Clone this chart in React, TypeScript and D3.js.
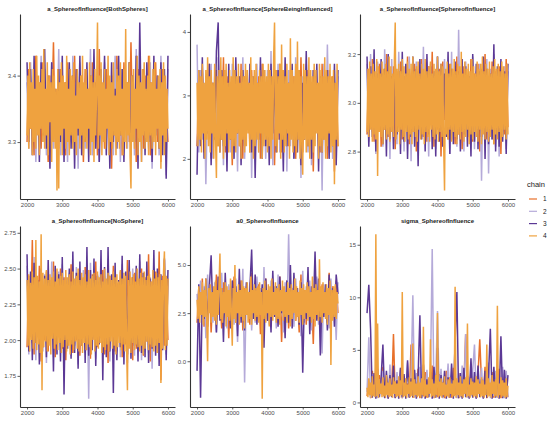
import { useEffect, useRef } from "react";
import { select, scaleLinear, line, axisBottom, axisLeft, format, extent } from "d3";

// chain legend
const chainNames = ["1", "2", "3", "4"];
const chainColors = ["#E8702A", "#B5AAD9", "#5B3895", "#EFA23F"];

const iterStart = 2000;
const iterEnd = 6000;
const iterTicks = [2000, 3000, 4000, 5000, 6000];

// ---- a_SphereofInfluence[BothSpheres]
const both1 = [3.30,3.41,3.32,3.38,3.28,3.43,3.34,3.39,3.29,3.42,3.31,3.37,3.27,3.40,3.33,3.45,3.30,3.38,3.29,3.41,3.35,3.39,3.28,3.42,3.31,3.37,3.30,3.43,3.29,3.36,3.32,3.40,3.27,3.41,3.34,3.38,3.30,3.42,3.31,3.39,3.28,3.44,3.32,3.37,3.29,3.41,3.33,3.38,3.26,3.40,3.31,3.43,3.30,3.36,3.28,3.42,3.32,3.39,3.30,3.45,3.31,3.37,3.27,3.41,3.33,3.38,3.29,3.40,3.32,3.43,3.28,3.39,3.31,3.42,3.30,3.38,3.27,3.41,3.33,3.36,3.30];
const both2 = [3.39,3.29,3.42,3.31,3.40,3.27,3.38,3.32,3.43,3.30,3.41,3.28,3.39,3.33,3.42,3.29,3.37,3.31,3.44,3.28,3.40,3.32,3.38,3.27,3.41,3.30,3.43,3.31,3.39,3.26,3.42,3.33,3.37,3.29,3.40,3.30,3.44,3.28,3.38,3.32,3.41,3.27,3.39,3.31,3.42,3.29,3.40,3.33,3.37,3.28,3.43,3.30,3.39,3.27,3.41,3.32,3.38,3.29,3.42,3.31,3.40,3.28,3.44,3.30,3.37,3.27,3.41,3.33,3.39,3.29,3.42,3.26,3.38,3.31,3.40,3.28,3.43,3.30,3.37,3.25,3.41];
const both3 = [3.42,3.30,3.41,3.28,3.43,3.32,3.39,3.27,3.42,3.31,3.44,3.29,3.40,3.26,3.42,3.33,3.38,3.28,3.41,3.30,3.43,3.27,3.39,3.32,3.42,3.29,3.40,3.26,3.41,3.31,3.43,3.28,3.38,3.30,3.42,3.27,3.40,3.32,3.44,3.29,3.39,3.27,3.41,3.31,3.43,3.28,3.40,3.26,3.42,3.30,3.38,3.29,3.43,3.31,3.41,3.27,3.39,3.32,3.42,3.28,3.40,3.30,3.43,3.26,3.48,3.31,3.41,3.28,3.42,3.30,3.39,3.27,3.43,3.31,3.40,3.29,3.42,3.28,3.41,3.245,3.43];
const both4 = [
  3.31,3.40,3.29,3.42,3.32,3.39,3.28,3.41,3.30,3.38,
  3.29,3.43,3.31,3.40,3.28,3.39,3.32,3.41,3.30,3.44,
  3.29,3.38,3.31,3.42,3.28,3.40,3.33,3.39,3.27,3.41,
  3.30,3.40,3.29,3.38,3.227,3.41,3.23,3.39,3.31,3.42,
  3.28,3.40,3.32,3.39,3.29,3.43,3.30,3.38,3.28,3.41,
  3.31,3.40,3.29,3.42,3.30,3.37,3.28,3.41,3.32,3.39,
  3.29,3.40,3.31,3.43,3.28,3.39,3.30,3.41,3.29,3.38,
  3.32,3.42,3.28,3.40,3.30,3.39,3.27,3.41,3.31,3.38,
  3.48,3.29,3.40,3.31,3.42,3.28,3.39,3.30,3.41,3.29,
  3.38,3.32,3.43,3.28,3.40,3.30,3.39,3.29,3.42,3.31,
  3.37,3.28,3.41,3.30,3.40,3.29,3.42,3.31,3.38,3.28,
  3.41,3.30,3.47,3.29,3.39,3.31,3.42,3.28,3.23,3.40,
  3.30,3.41,3.29,3.38,3.32,3.43,3.28,3.40,3.30,3.39,
  3.27,3.41,3.31,3.42,3.29,3.38,3.30,3.40,3.28,3.43,
  3.31,3.39,3.29,3.41,3.30,3.42,3.28,3.38,3.32,3.40,
  3.29,3.41,3.26,3.39,3.31,3.42,3.28,3.40,3.30,3.38,
  3.32];
const bothTicks = [3.3, 3.4];

// ---- a_SphereofInfluence[SphereBeingInfluenced]
const being1 = [2.2,3.3,2.5,3.4,2.1,3.1,2.4,3.5,2.0,3.2,2.6,3.4,2.2,3.0,2.3,3.6,2.1,3.3,2.5,3.2,1.9,3.4,2.4,3.1,2.2,3.5,2.0,3.3,2.6,3.2,2.1,3.4,2.3,3.0,2.5,3.3,2.0,3.5,2.4,3.2,2.2,3.4,2.6,3.1,1.9,3.3,2.3,3.5,2.1,3.2,2.4,3.0,2.2,3.4,2.5,3.3,2.0,3.1,2.3,3.6,2.1,3.2,2.4,3.4,2.2,3.0,1.8,3.3,2.5,3.2,2.1,3.5,2.3,3.1,2.0,3.4,2.4,3.3,1.8,3.2,2.2];
const being2 = [3.8,2.1,3.4,2.3,3.2,1.6,3.0,2.4,3.5,2.0,3.3,2.2,3.6,2.5,3.1,1.9,3.4,2.3,3.2,2.1,3.5,2.4,3.0,1.8,3.3,2.2,3.6,2.0,3.2,2.5,3.4,1.7,3.1,2.3,3.5,2.1,3.3,2.4,3.0,2.0,3.4,2.2,3.7,1.9,3.2,2.3,3.5,2.1,3.1,2.5,3.3,1.8,3.4,2.2,3.2,2.0,3.6,2.4,3.1,1.7,3.3,2.3,3.5,2.1,3.2,1.9,3.4,2.4,3.0,2.2,3.3,1.5,3.5,2.1,3.8,2.3,3.2,2.0,3.4,1.9,3.3];
const being3 = [1.75,3.4,2.2,3.6,2.0,3.3,2.4,3.5,1.9,3.2,2.3,3.7,4.15,2.1,3.4,2.2,3.1,1.8,3.5,2.3,3.2,2.0,3.6,2.4,3.3,1.9,3.4,2.2,3.0,2.5,3.5,2.1,3.3,1.7,3.2,2.3,3.6,2.0,3.4,2.2,3.1,1.9,3.5,2.4,3.3,2.1,3.4,2.3,3.0,1.8,3.6,2.2,3.2,2.4,3.5,2.0,3.3,2.1,3.4,1.9,3.2,2.3,3.7,2.2,3.1,2.0,3.4,2.4,3.5,1.8,3.3,2.1,3.2,2.3,3.4,2.0,3.1,2.2,3.5,1.9,3.4];
const being4 = [
  3.2,2.2,3.4,2.3,3.3,2.1,3.5,2.4,3.2,2.0,
  3.4,2.3,3.6,2.2,3.3,2.1,3.4,2.4,3.2,2.0,
  3.5,2.3,1.7,3.3,2.2,3.4,2.1,3.6,2.3,3.3,
  2.0,3.4,2.2,3.5,2.4,3.2,2.1,3.4,2.3,3.3,
  2.0,3.6,2.2,3.4,2.1,3.3,2.4,3.5,2.2,3.2,
  2.0,3.4,2.3,3.3,2.1,3.5,2.2,3.4,2.4,3.2,
  2.1,3.6,2.3,3.3,2.0,3.4,2.2,3.5,2.3,3.2,
  2.1,3.4,2.4,3.3,2.0,3.5,2.2,3.4,2.3,3.3,
  2.1,3.5,2.2,3.4,2.0,3.3,2.3,3.6,4.15,2.2,
  3.4,2.1,3.3,2.4,3.5,2.0,3.8,2.3,3.4,2.1,
  3.3,2.2,3.5,2.4,3.2,2.0,3.9,2.3,3.4,2.1,
  3.3,2.2,3.5,2.1,3.85,2.3,3.4,2.0,3.3,2.2,
  1.75,3.5,2.3,3.4,2.1,3.3,2.2,3.6,2.0,3.4,
  2.3,3.3,2.1,3.5,2.2,3.4,2.4,3.2,2.0,3.5,
  2.2,3.4,2.1,3.3,2.3,3.6,2.0,3.4,2.2,3.3,
  2.4,3.5,2.1,3.3,2.2,3.4,1.6,3.2,2.3,3.5,
  2.2];
const beingTicks = [2, 3, 4];

// ---- a_SphereofInfluence[SphereofInfluence]
const sphere1 = [2.87,3.14,2.91,3.18,2.84,3.10,2.95,3.16,2.82,3.12,2.89,3.20,2.86,3.08,2.93,3.15,2.81,3.13,2.90,3.17,2.85,3.11,2.94,3.19,2.83,3.09,2.88,3.16,2.80,3.13,2.92,3.18,2.86,3.10,2.84,3.15,2.91,3.21,2.82,3.12,2.89,3.14,2.78,3.17,2.93,3.11,2.85,3.16,2.90,3.08,2.83,3.19,2.87,3.13,2.81,3.15,2.94,3.10,2.86,3.18,2.84,3.12,2.91,3.16,2.80,3.14,2.88,3.20,2.85,3.09,2.92,3.17,2.83,3.13,2.89,3.15,2.79,3.11,2.87,3.18,2.90];
const sphere2 = [3.16,2.84,3.20,2.88,3.12,2.79,3.17,2.90,3.14,2.82,3.22,2.86,3.10,2.77,3.18,2.91,3.13,2.83,3.21,2.88,3.15,2.80,3.11,2.85,3.19,2.76,3.14,2.89,3.17,2.82,3.12,2.87,3.23,2.84,3.10,2.78,3.16,2.90,3.13,2.81,3.19,2.86,3.11,2.83,3.18,2.88,3.14,2.79,3.21,2.85,3.12,2.82,3.30,2.87,3.15,2.80,3.17,2.89,3.10,2.84,3.19,2.81,3.13,2.86,3.16,2.68,3.11,2.83,3.18,2.71,3.14,2.85,3.20,2.82,3.12,2.78,3.17,2.88,3.15,2.81,3.13];
const sphere3 = [3.19,2.82,3.15,2.86,3.22,2.80,3.12,2.88,3.18,2.83,3.14,2.78,3.20,2.85,3.11,2.81,3.17,2.87,3.13,2.79,3.21,2.84,3.16,2.77,3.12,2.86,3.19,2.82,3.14,2.74,3.18,2.85,3.11,2.80,3.20,2.87,3.15,2.81,3.13,2.78,3.19,2.84,3.16,2.82,3.12,2.86,3.21,2.79,3.14,2.83,3.17,2.85,3.13,2.80,3.18,2.87,3.15,2.82,3.11,2.78,3.20,2.84,3.16,2.81,3.13,2.86,3.19,2.77,3.14,2.83,3.12,2.85,3.24,2.80,3.15,2.82,3.18,2.84,3.13,2.79,3.16];
const sphere4 = [
  2.88,3.14,2.86,3.17,2.89,3.12,2.84,3.16,2.87,3.13,
  2.85,3.18,2.70,3.15,2.88,3.12,2.86,3.17,2.83,3.14,
  2.89,3.16,2.85,3.13,2.87,3.19,2.84,3.15,2.88,3.12,
  2.86,3.17,3.33,2.85,3.14,2.88,3.16,2.83,3.13,2.89,
  3.18,2.86,3.15,2.84,3.12,2.88,3.17,2.85,3.14,2.87,
  3.16,2.83,3.19,2.88,3.13,2.86,3.15,2.84,3.17,2.89,
  3.12,2.85,3.16,2.87,3.14,2.83,3.18,2.88,3.13,2.86,
  3.15,2.84,3.17,2.89,3.12,2.86,3.16,2.85,3.14,2.87,
  3.19,2.84,3.13,2.88,3.16,2.86,3.15,2.83,2.64,3.14,
  2.87,3.17,2.85,3.12,2.89,3.16,2.84,3.14,2.88,3.18,
  2.86,3.13,2.83,3.16,2.87,3.15,2.85,3.21,2.88,3.12,
  2.84,3.17,2.86,3.14,2.89,3.16,2.83,3.13,2.87,3.18,
  2.85,3.15,2.88,3.12,2.86,3.17,2.84,3.14,2.89,3.16,
  2.83,3.19,2.87,3.13,2.85,3.16,2.88,3.14,2.84,3.17,
  2.86,3.12,2.89,3.15,2.83,3.18,2.87,3.14,2.85,3.16,
  2.88,3.13,2.84,3.17,2.86,3.15,2.89,3.12,2.85,3.16,
  2.87];
const sphereTicks = [2.8, 3.0, 3.2];

// ---- a_SphereofInfluence[NoSphere]
const none1 = [1.95,2.45,2.05,2.70,1.90,2.40,2.10,2.52,1.85,2.38,2.00,2.48,1.92,2.42,2.08,2.55,1.88,2.36,2.02,2.50,1.94,2.44,1.86,2.40,2.06,2.53,1.91,2.37,2.00,2.47,1.89,2.43,2.04,2.51,1.93,2.39,1.87,2.46,2.01,2.55,1.95,2.41,2.07,2.49,1.90,2.38,1.84,2.45,2.03,2.52,1.92,2.40,2.05,2.48,1.88,2.43,1.97,2.56,2.02,2.39,1.86,2.47,1.94,2.42,2.06,2.50,1.89,2.44,1.99,2.60,1.85,2.41,2.03,2.48,1.91,2.62,1.72,2.45,1.96,2.40,2.00];
const none2 = [2.52,1.90,2.44,1.98,2.58,1.86,2.40,2.04,2.50,1.92,2.46,1.84,2.42,2.00,2.55,1.88,2.38,2.06,2.48,1.93,2.53,1.85,2.41,2.02,2.47,1.89,2.44,1.96,2.51,1.83,2.39,2.05,2.49,1.91,2.43,1.59,2.54,1.94,2.40,1.87,2.46,2.03,2.52,1.90,2.42,1.98,2.57,1.85,2.44,2.01,2.48,1.92,2.39,1.88,2.53,1.95,2.45,1.84,2.41,2.04,2.50,1.89,2.47,1.93,2.55,1.86,2.42,2.00,2.49,1.91,2.44,1.80,2.51,1.94,2.46,1.87,2.40,2.02,2.56,1.90,2.43];
const none3 = [2.60,1.92,2.48,1.86,2.54,1.98,2.42,1.83,2.50,1.95,2.45,1.88,2.56,2.00,2.40,1.78,2.52,1.90,2.46,1.85,2.58,1.62,2.44,1.94,2.50,1.87,2.62,1.91,2.47,1.80,2.55,1.96,2.43,1.84,2.65,1.89,2.49,1.93,2.57,1.82,2.45,1.97,2.63,1.72,2.51,1.88,2.65,1.92,2.46,1.63,2.54,1.86,2.42,1.95,2.59,1.83,2.48,1.90,2.56,1.87,2.44,1.96,2.52,1.85,2.60,1.91,2.47,1.88,2.55,1.84,2.43,1.94,2.63,1.89,2.50,1.82,2.46,1.93,2.57,1.86,2.49];
const none4 = [
  2.42,1.96,2.46,1.92,2.40,2.00,2.48,1.94,2.44,1.98,
  2.70,1.93,2.45,1.97,2.41,1.91,2.74,1.65,2.47,1.95,
  2.43,1.99,2.49,1.92,2.42,1.96,2.46,1.90,2.44,2.01,
  2.48,1.94,2.41,1.97,2.50,1.93,2.43,1.98,2.45,1.91,
  2.47,1.95,2.42,2.00,2.49,1.92,2.44,1.96,2.46,1.90,
  2.41,1.97,2.48,1.93,2.43,1.99,2.45,1.94,2.50,1.92,
  2.42,1.96,2.47,1.91,2.44,1.98,2.46,1.93,2.41,1.97,
  2.49,1.95,2.43,1.90,2.45,2.00,2.47,1.92,2.42,1.96,
  2.48,1.94,2.44,1.98,2.46,1.91,2.41,1.95,2.50,1.93,
  2.43,1.97,2.47,1.92,2.45,1.99,2.42,1.94,2.48,1.96,
  2.44,1.90,2.46,1.95,2.41,1.98,2.49,1.93,2.43,1.97,
  2.47,1.92,2.45,1.96,1.65,2.42,1.94,2.48,1.91,2.44,
  1.98,2.46,1.93,2.41,1.97,2.50,1.95,2.43,1.92,2.47,
  1.96,2.44,1.90,2.48,1.94,2.42,1.99,2.45,1.93,2.46,
  1.97,2.41,1.95,2.49,1.92,2.43,1.96,2.47,1.91,2.44,
  1.98,2.46,1.70,2.42,1.94,2.48,2.62,1.93,2.45,1.96,
  2.43];
const noneTicks = [1.75, 2.0, 2.25, 2.5, 2.75];

// ---- a0_SphereofInfluence
const a01 = [2.0,3.8,2.4,4.3,1.8,3.5,2.6,4.0,1.5,3.6,2.2,4.5,2.8,3.3,1.7,4.1,2.5,3.7,1.2,3.9,2.3,4.4,2.0,3.4,2.7,4.2,1.6,3.8,2.4,3.5,1.9,4.6,2.2,3.6,2.9,4.0,1.4,3.7,2.5,4.3,2.1,3.5,1.8,4.1,2.6,3.9,2.0,4.4,1.0,3.6,2.3,4.2,1.7,3.8,2.5,4.0,2.1,3.4,1.5,4.5,2.7,3.7,1.9,4.1,2.4,3.6,0.9,4.3,2.2,3.8,1.6,4.0,2.6,3.5,2.0,4.6,1.8,3.9,2.3,4.2,2.5];
const a02 = [3.5,1.8,4.2,2.3,3.9,1.2,4.5,2.6,3.6,2.0,4.1,1.5,3.8,2.4,4.6,2.1,3.4,1.7,4.0,2.5,3.7,1.9,4.3,1.0,3.6,2.2,4.8,-1.1,3.9,2.4,4.1,1.6,3.5,2.0,4.4,2.6,3.8,1.4,4.9,2.2,3.6,1.9,4.2,2.5,3.9,1.7,4.5,2.3,3.7,1.5,4.1,2.1,6.6,2.4,3.8,1.8,4.3,2.6,3.5,1.3,4.7,2.0,3.9,2.3,4.2,1.6,3.6,2.5,4.4,1.9,3.8,0.4,4.0,2.2,3.7,1.7,4.3,2.4,3.5,1.1,4.1];
const a03 = [-0.5,4.0,-1.9,3.6,2.2,4.3,1.8,3.9,5.5,2.4,3.7,1.5,4.4,2.1,3.8,1.0,4.6,2.3,3.5,1.7,4.2,2.5,3.9,1.3,4.8,2.0,3.6,1.6,4.1,2.4,3.8,5.8,2.2,4.5,1.9,3.7,2.6,4.0,0.7,4.3,2.1,3.6,1.5,4.7,2.3,3.9,1.8,4.4,2.5,3.7,1.2,4.2,2.0,5.0,1.7,4.6,2.4,3.8,1.9,4.1,-0.6,3.6,2.2,4.9,1.4,3.9,2.6,5.7,2.1,4.3,0.3,3.7,2.3,4.0,1.6,4.5,2.0,3.8,1.8,4.5,3.5];
const a04 = [
  3.2,2.2,3.9,2.0,3.6,2.4,4.1,1.9,3.7,2.3,
  4.3,2.1,0.0,3.8,2.5,4.0,2.0,3.6,2.3,3.9,
  2.1,4.2,1.9,3.7,2.4,4.0,5.6,2.2,3.8,2.0,
  3.6,2.5,4.1,1.8,3.9,2.3,3.7,2.1,4.3,2.4,
  0.8,3.8,2.2,5.0,2.0,3.6,2.5,4.0,1.9,3.7,
  2.3,4.2,2.1,3.9,1.7,3.8,2.4,4.1,2.0,3.6,
  2.2,4.4,1.9,3.7,2.5,4.0,2.1,3.8,2.3,3.9,
  2.0,4.1,2.4,3.6,-1.95,3.8,2.2,4.2,2.0,3.7,
  2.5,4.0,1.8,3.9,2.3,4.3,2.1,3.6,2.4,4.1,
  2.0,3.8,2.2,4.0,1.9,3.7,2.6,4.2,2.1,3.9,
  2.3,3.6,2.0,4.1,2.4,3.8,1.8,4.0,2.2,3.7,
  2.5,4.3,2.1,3.9,2.3,3.6,2.0,4.2,2.4,3.8,
  1.9,4.0,2.2,3.7,2.5,4.1,2.1,3.9,2.3,3.6,
  2.0,4.4,2.2,3.8,1.8,4.0,2.4,3.7,2.1,5.3,
  2.3,3.9,2.0,4.1,2.5,3.6,2.2,4.0,1.9,3.8,
  2.4,4.2,-0.2,3.7,2.1,3.9,2.3,4.0,2.2,3.6,
  3.0];
const a0Ticks = [0, 2.5, 5];

// ---- sigma_SphereofInfluence
const sigma1 = [0.6,2.2,0.4,3.0,0.8,1.9,0.45,2.6,1.1,3.4,0.5,2.0,0.4,2.8,0.9,6.5,0.45,2.3,0.7,3.1,0.4,2.5,1.0,1.8,0.5,5.5,0.45,2.4,0.8,3.2,0.4,2.0,0.6,2.9,0.45,1.7,0.9,3.5,0.4,2.2,0.5,2.7,0.8,1.9,0.4,3.0,0.6,2.4,0.45,3.3,0.7,2.1,0.4,2.8,0.5,1.8,6.5,2.5,0.45,3.1,0.8,2.0,0.4,2.7,6.0,1.9,0.5,3.4,0.4,2.3,0.7,2.9,0.45,2.0,0.6,3.2,0.4,2.5,0.8,1.8,0.5];
const sigma2 = [1.0,6.2,0.45,2.7,0.7,3.5,0.4,2.2,0.9,3.0,0.5,2.5,0.4,3.6,0.8,2.1,0.45,2.9,0.6,3.3,0.4,2.4,1.0,3.8,0.5,2.0,10.2,0.45,2.8,0.7,3.4,0.4,2.3,0.8,3.1,0.5,2.6,14.6,0.45,2.2,8.7,0.6,3.2,0.4,2.5,0.9,3.7,0.45,2.1,0.7,3.0,0.4,2.8,0.5,3.5,0.8,6.5,0.45,2.4,0.6,3.1,5.5,0.4,2.6,0.7,3.3,0.45,2.0,0.9,3.8,0.4,2.5,0.6,3.0,0.45,2.2,0.8,3.4,0.4,3.0,0.5];
const sigma3 = [8.5,11.2,7.0,0.45,2.8,0.35,3.2,0.5,2.4,5.5,0.4,3.0,0.35,2.6,0.5,3.5,0.4,2.1,0.35,3.3,0.5,2.7,0.35,4.0,0.45,2.3,0.5,3.1,0.35,2.5,8.3,0.4,3.6,0.35,2.2,0.5,2.9,0.35,3.4,0.45,5.2,0.35,2.6,0.5,3.0,0.35,2.4,0.45,3.7,0.35,5.8,10.5,0.4,2.8,0.35,3.3,0.5,2.5,0.35,4.2,0.45,2.9,0.35,3.5,0.5,2.2,0.35,3.0,0.45,2.7,7.0,0.35,3.4,0.45,2.4,0.35,6.3,0.4,3.1,0.35,2.6];
const sigma4 = [
  1.4,0.5,2.3,0.7,1.9,0.45,2.5,0.6,1.7,0.5,
  16.0,0.6,7.5,0.45,2.2,0.8,1.8,0.5,2.4,0.6,
  1.6,0.45,2.6,0.7,1.9,0.5,2.3,0.6,1.7,0.45,
  2.4,0.8,2.0,0.5,1.8,0.6,2.5,0.45,2.1,0.7,
  10.5,0.5,1.9,0.6,2.3,0.45,1.7,0.8,2.4,0.5,
  2.0,0.6,5.6,0.45,2.2,0.7,1.8,0.5,2.5,0.6,
  1.9,0.45,2.3,0.7,7.2,0.5,2.1,0.6,1.7,0.45,
  2.4,0.8,6.0,0.5,2.2,0.6,1.8,0.45,2.6,0.7,
  8.5,0.5,2.0,0.6,2.3,0.45,1.9,0.7,2.5,0.5,
  1.7,0.6,2.2,0.45,2.4,0.8,1.8,0.5,2.1,0.6,
  11.0,0.45,2.3,0.7,1.9,0.5,2.5,0.6,1.8,0.45,
  2.2,0.8,2.4,0.5,7.5,0.6,1.7,0.45,2.3,0.7,
  2.0,0.5,1.9,0.6,2.5,0.45,2.2,0.8,1.8,0.5,
  2.4,0.6,2.1,0.45,1.7,0.7,5.5,0.5,2.3,0.6,
  1.9,0.45,2.6,0.8,2.0,0.5,2.2,0.6,9.2,0.45,
  1.8,0.7,2.4,0.5,2.1,0.6,1.9,0.45,2.3,0.5,
  1.6];
const sigmaTicks = [0, 5, 10, 15];

const panels = [
  { title: "a_SphereofInfluence[BothSpheres]", chains: [both1, both2, both3, both4], ticks: bothTicks, fmt: ".1f" },
  { title: "a_SphereofInfluence[SphereBeingInfluenced]", chains: [being1, being2, being3, being4], ticks: beingTicks, fmt: "d" },
  { title: "a_SphereofInfluence[SphereofInfluence]", chains: [sphere1, sphere2, sphere3, sphere4], ticks: sphereTicks, fmt: ".1f" },
  { title: "a_SphereofInfluence[NoSphere]", chains: [none1, none2, none3, none4], ticks: noneTicks, fmt: ".2f" },
  { title: "a0_SphereofInfluence", chains: [a01, a02, a03, a04], ticks: a0Ticks, fmt: ".1f" },
  { title: "sigma_SphereofInfluence", chains: [sigma1, sigma2, sigma3, sigma4], ticks: sigmaTicks, fmt: "d" },
];

const W = 550;
const H = 422;
const colLeft = [20, 190, 360];
const panelW = 155;
const rowTop = [14, 226];
const rowBottom = [199, 407];
const font = "'Liberation Sans', Arial, sans-serif";

const Panel = ({ p, idx }: { p: (typeof panels)[number]; idx: number }) => {
  const xAxisRef = useRef<SVGGElement>(null);
  const yAxisRef = useRef<SVGGElement>(null);

  const col = idx % 3;
  const row = Math.floor(idx / 3);
  const left = colLeft[col];
  const top = rowTop[row];
  const bottom = rowBottom[row];

  // ggplot style 5% expansion
  const xPad = (iterEnd - iterStart) * 0.05;
  const x = scaleLinear().domain([iterStart - xPad, iterEnd + xPad]).range([left, left + panelW]);
  const [lo, hi] = extent(p.chains.flat()) as [number, number];
  const yPad = (hi - lo) * 0.05;
  const y = scaleLinear().domain([lo - yPad, hi + yPad]).range([bottom, top]);

  useEffect(() => {
    const styleAxis = (g: any) => {
      g.select(".domain").attr("stroke", "#333").attr("stroke-width", 1.1);
      g.selectAll(".tick line").attr("stroke", "#333").attr("stroke-width", 0.8);
      g.selectAll(".tick text")
        .attr("fill", "#4D4D4D")
        .style("font-family", font)
        .style("font-size", "6px");
    };
    select(xAxisRef.current)
      .call(axisBottom(x).tickValues(iterTicks).tickFormat(format("d")).tickSize(2.5).tickSizeOuter(0).tickPadding(1.5) as any)
      .call(styleAxis);
    select(yAxisRef.current)
      .call(axisLeft(y).tickValues(p.ticks).tickFormat(format(p.fmt)).tickSize(2.5).tickSizeOuter(0).tickPadding(1.5) as any)
      .call(styleAxis);
  });

  return (
    <g>
      {p.chains.map((vals, ci) => {
        const step = (iterEnd - iterStart) / (vals.length - 1);
        const gen = line<number>()
          .x((_, i) => x(iterStart + i * step))
          .y((d) => y(d));
        return (
          <path key={ci} d={gen(vals) ?? ""} fill="none" stroke={chainColors[ci]} strokeWidth={1.5} strokeLinejoin="bevel" />
        );
      })}
      <g ref={xAxisRef} transform={`translate(0,${bottom})`} />
      <g ref={yAxisRef} transform={`translate(${left},0)`} />
      <text
        x={left + panelW / 2}
        y={top - 3}
        textAnchor="middle"
        fontFamily={font}
        fontWeight="bold"
        fontSize={6}
        fill="#1a1a1a"
      >
        {p.title}
      </text>
    </g>
  );
};

export default function App() {
  return (
    <svg
      width={W}
      height={H}
      style={{ position: "absolute", left: 0, top: 0, background: "#fff" }}
    >
      {panels.map((p, i) => (
        <Panel key={p.title} p={p} idx={i} />
      ))}
      <g fontFamily={font}>
        <text x={527} y={187} fontSize={7.5} fill="#1a1a1a">
          chain
        </text>
        {chainNames.map((c, i) => (
          <g key={c} transform={`translate(0,${199 + i * 12.3})`}>
            <line x1={529} x2={537} y1={0} y2={0} stroke={chainColors[i]} strokeWidth={1.2} />
            <text x={543} y={2.3} fontSize={6.5} fill="#1a1a1a">
              {c}
            </text>
          </g>
        ))}
      </g>
    </svg>
  );
}
